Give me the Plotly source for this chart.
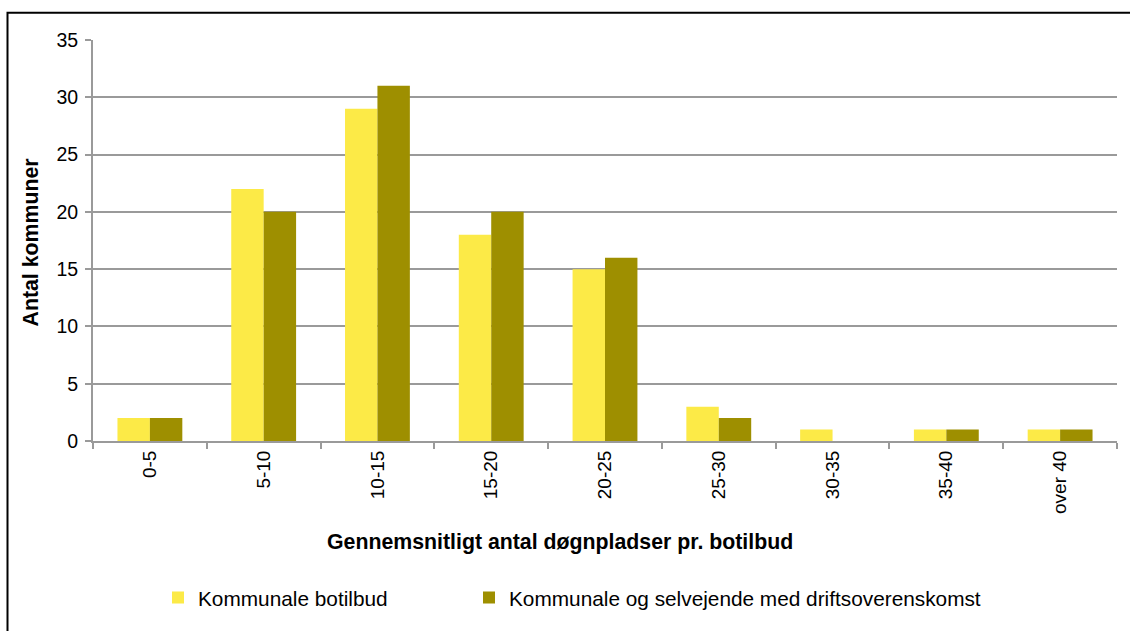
import plotly.graph_objects as go

categories = ["0-5", "5-10", "10-15", "15-20", "20-25", "25-30", "30-35", "35-40", "over 40"]
kommunale = [2, 22, 29, 18, 15, 3, 1, 1, 1]
selvejende = [2, 20, 31, 20, 16, 2, 0, 1, 1]
series_names = ["Kommunale botilbud", "Kommunale og selvejende med driftsoverenskomst"]
y_ticks = [0, 5, 10, 15, 20, 25, 30, 35]

W, H = 1130, 631
L, R, T, B = 93, 13, 40, 185
PW, PH = W - L - R, H - T - B

def px_x(p):
    return (p - L) / PW

def px_y(p):
    return (H - B - p) / PH

FONT = "Liberation Sans, Arial, sans-serif"
GRID = "#9a9a9a"

fig = go.Figure()
fig.add_trace(go.Bar(x=categories, y=kommunale, name=series_names[0],
                     marker=dict(color="#FCEA47", line=dict(width=0)), legend="legend"))
fig.add_trace(go.Bar(x=categories, y=selvejende, name=series_names[1],
                     marker=dict(color="#9E8F00", line=dict(width=0)), legend="legend2"))

fig.update_layout(
    width=W, height=H,
    margin=dict(l=L, r=R, t=T, b=B, pad=0),
    paper_bgcolor="white", plot_bgcolor="white",
    font=dict(family=FONT, size=19, color="black"),
    barmode="group", bargap=0.43, bargroupgap=0,
    legend=dict(orientation="h", x=px_x(158), y=px_y(605), xanchor="left", yanchor="middle",
                font=dict(size=20.8), bgcolor="rgba(0,0,0,0)", borderwidth=0),
    legend2=dict(orientation="h", x=px_x(469), y=px_y(605), xanchor="left", yanchor="middle",
                 font=dict(size=20.8), bgcolor="rgba(0,0,0,0)", borderwidth=0),
    showlegend=True,
)

fig.update_xaxes(
    type="category", showline=True, linecolor=GRID, linewidth=2,
    ticks="outside", tickson="boundaries", ticklen=6, tickcolor=GRID, tickwidth=2,
    tickangle=-90, tickfont=dict(size=19), showgrid=False,
)
fig.update_yaxes(
    range=[0, 35], tickvals=y_ticks, showline=True, linecolor=GRID, linewidth=2,
    ticks="outside", ticklen=6, tickcolor=GRID, tickwidth=2,
    showgrid=True, gridcolor=GRID, gridwidth=2, zeroline=False,
    tickfont=dict(size=19.5), ticklabelstandoff=3,
)

fig.add_annotation(text="<b>Antal kommuner</b>", xref="paper", yref="paper",
                   x=px_x(31), y=px_y(245), textangle=-90, showarrow=False,
                   xanchor="center", yanchor="middle", font=dict(size=21.3))
fig.add_annotation(text="<b>Gennemsnitligt antal døgnpladser pr. botilbud</b>", xref="paper", yref="paper",
                   x=px_x(560), y=px_y(548), showarrow=False,
                   xanchor="center", yanchor="middle", font=dict(size=21.3))

fig.add_shape(type="rect", xref="paper", yref="paper",
              x0=px_x(7.5), x1=px_x(1145), y0=px_y(12.5), y1=px_y(650),
              line=dict(color="black", width=2), fillcolor="rgba(0,0,0,0)", layer="above")

fig.write_html("out.html")
